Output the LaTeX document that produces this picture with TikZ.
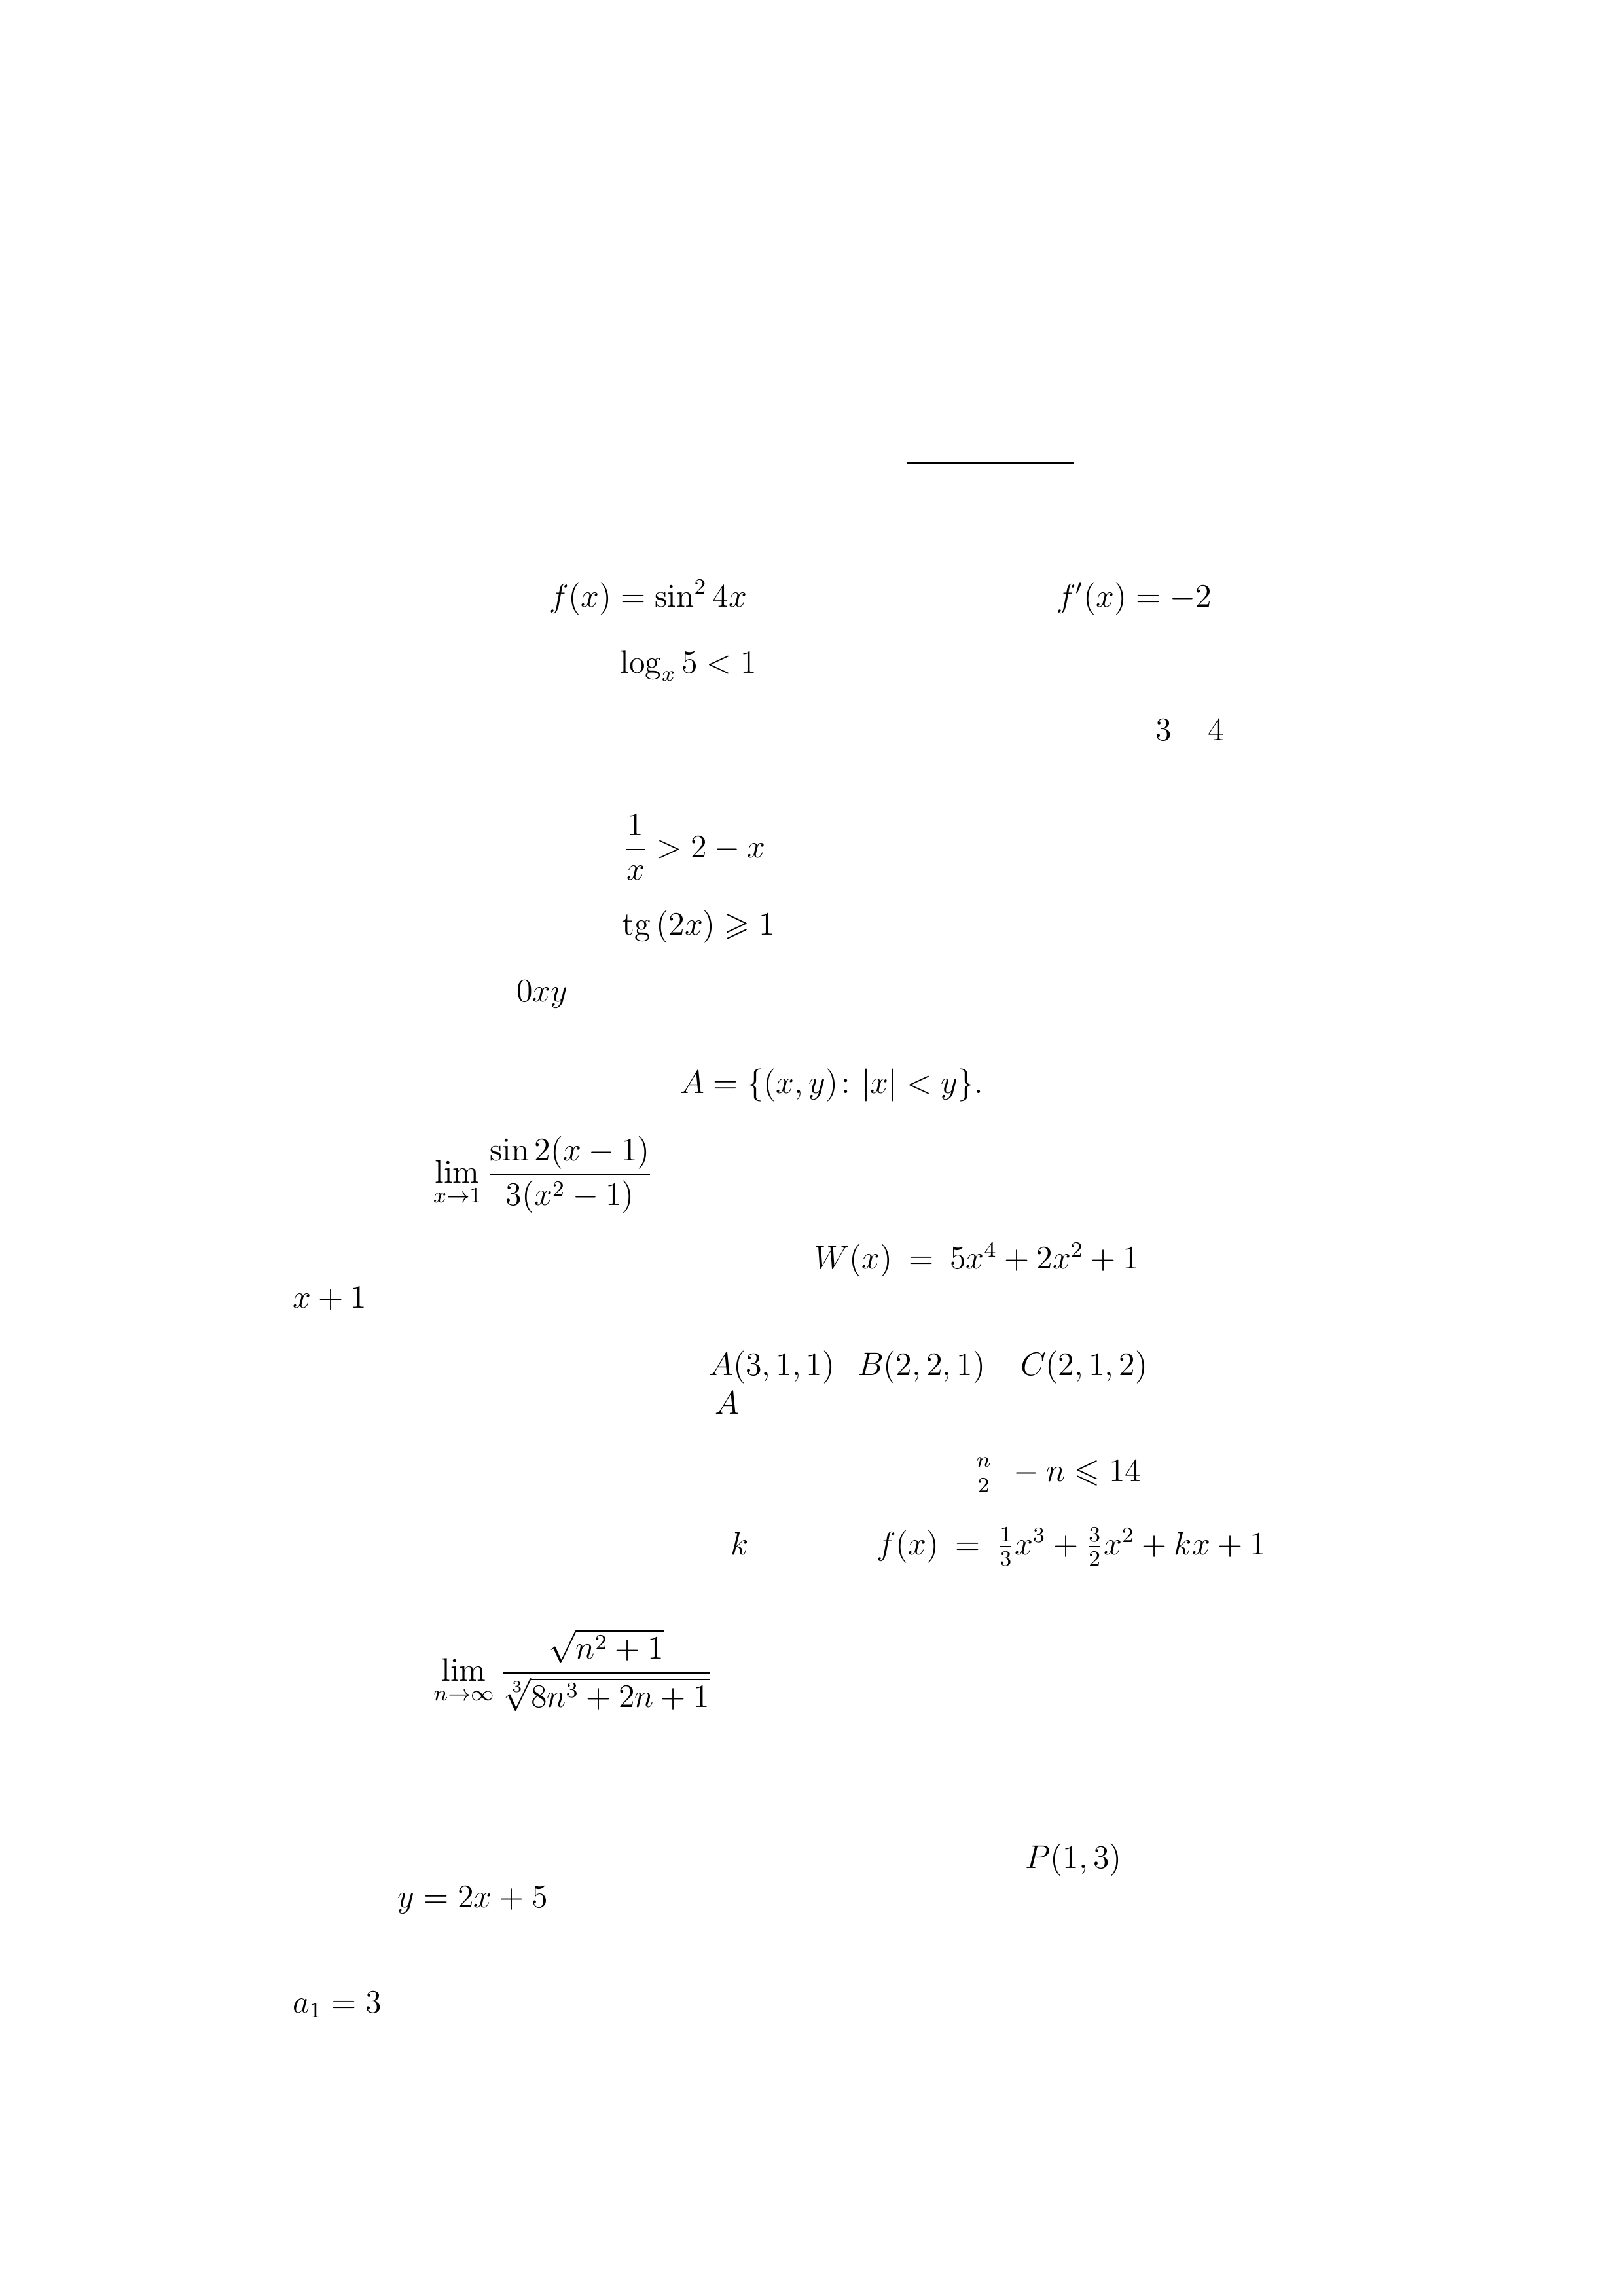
\documentclass[tikz,border=0pt]{standalone}
\usepackage{amsmath,amssymb}
\tikzset{mtext/.style={anchor=base west,inner sep=0pt,outer sep=0pt,font=\fontsize{12}{14.5}\selectfont}}
\begin{document}
\begin{tikzpicture}[x=1pt,y=1pt]
\useasboundingbox[fill=white] (0,0) rectangle (595.28,-841.89);
\coordinate (l1) at (332.6,-169.8);
\coordinate (l2) at (393.6,-169.8);
\draw[line width=0.5pt,black] (l1) -- (l2);
\node[mtext] (fx) at (201.4,-222.5) {$f(x)=\sin^2 4x$};
\node[mtext] (fp) at (387.4,-222.5) {$f'(x)=-2$};
\node[mtext] (lg) at (227.5,-246.9) {$\log_x 5<1$};
\node[mtext] (n3) at (423.7,-271.5) {$3$};
\node[mtext] (n4) at (443,-271.5) {$4$};
\node[mtext] (fr) at (228.5,-314.5) {$\displaystyle\frac{1}{x}>2-x$};
\node[mtext] (tg) at (228,-342.9) {$\mathrm{tg}\,(2x)\geqslant 1$};
\node[mtext] (oxy) at (189.4,-367.2) {$0xy$};
\node[mtext] (set) at (249.4,-401) {$A=\{(x,y)\colon |x|<y\}.$};
\node[mtext] (lim1) at (158.9,-433.7) {$\displaystyle\lim_{x\to1}\frac{\sin 2(x-1)}{3(x^2-1)}$};
\node[mtext] (W) at (298.6,-465.3) {$W(x)\:=\:5x^4+2x^2+1$};
\node[mtext] (xp) at (107.3,-479.6) {$x+1$};
\node[mtext] (pA) at (260,-504.4) {$A(3,1,1)$};
\node[mtext] (pB) at (314.4,-504.4) {$B(2,2,1)$};
\node[mtext] (pC) at (374.2,-504.4) {$C(2,1,2)$};
\node[mtext] (A2) at (262.2,-518.6) {$A$};
\node[mtext] (bin) at (356.8,-543.2) {${n\atop 2}\phantom{)}-n\leqslant 14$};
\node[mtext] (k) at (268,-570) {$k$};
\node[mtext] (fk) at (321.4,-570) {$f(x)\:=\:\frac{1}{3}x^3+\frac{3}{2}x^2+kx+1$};
\node[mtext] (lim2) at (159.0,-616.4) {$\displaystyle\lim_{n\to\infty}\frac{\sqrt{n^2+1}}{\sqrt[3]{8n^3+2n+1}}$};
\node[mtext] (P) at (375.9,-685) {$P(1,3)$};
\node[mtext] (y) at (145.9,-699.4) {$y=2x+5$};
\node[mtext] (a1) at (107.3,-738) {$a_1=3$};
\end{tikzpicture}
\end{document}
